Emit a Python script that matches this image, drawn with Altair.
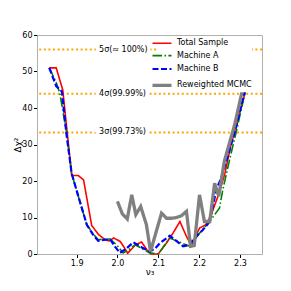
import altair as alt
import pandas as pd

series_names = ["Total Sample", "Machine A", "Machine B", "Reweighted MCMC"]
series_colors = ["#ff0000", "#008000", "#0000ff", "#808080"]
series_dash = [[1, 0], [9.6, 2.4, 1.5, 2.4], [6, 2.5], [1, 0]]
series_width = [1.6, 1.6, 2.2, 3.3]

total_x = [1.833, 1.850, 1.866, 1.888, 1.904, 1.917, 1.937, 1.954, 1.970, 1.980, 1.991, 2.007,
           2.020, 2.025, 2.044, 2.059, 2.073, 2.082, 2.100, 2.120, 2.136, 2.153, 2.169, 2.181,
           2.201, 2.216, 2.228, 2.249, 2.263, 2.277, 2.296, 2.316]
total_y = [51.0, 51.0, 45.0, 21.5, 21.5, 20.3, 7.8, 5.3, 3.9, 3.6, 4.4, 3.4,
           1.2, 0.2, 2.5, 3.3, 1.0, 0.0, 0.0, 3.0, 5.7, 8.9, 4.8, 2.3,
           7.1, 8.0, 10.3, 16.7, 22.0, 29.4, 37.5, 45.5]

machA_x = [1.833, 1.850, 1.859, 1.875, 1.888, 1.909, 1.925, 1.942, 1.953, 1.970, 1.982, 1.998,
           2.014, 2.028, 2.043, 2.060, 2.079, 2.100, 2.128, 2.140, 2.153, 2.177, 2.201, 2.226,
           2.250, 2.258, 2.275, 2.291, 2.315]
machA_y = [51.0, 47.0, 44.0, 33.5, 22.0, 14.0, 8.0, 5.3, 3.9, 4.1, 4.1, 2.5,
           0.3, 1.2, 2.5, 1.5, 0.3, 0.0, 4.4, 3.8, 3.2, 2.1, 5.7, 8.9,
           12.6, 17.6, 26.0, 33.5, 45.5]

machB_x = [1.833, 1.850, 1.864, 1.875, 1.888, 1.909, 1.925, 1.942, 1.953, 1.970, 1.982, 1.994,
           2.006, 2.022, 2.039, 2.060, 2.079, 2.092, 2.104, 2.128, 2.145, 2.161, 2.177, 2.185,
           2.209, 2.226, 2.242, 2.254, 2.270, 2.290, 2.314]
machB_y = [51.0, 46.0, 44.5, 33.0, 22.0, 14.0, 8.0, 5.0, 3.6, 3.9, 4.1, 2.0,
           0.3, 1.5, 3.2, 1.8, 0.7, 1.5, 3.0, 5.0, 3.5, 2.1, 2.5, 3.9,
           6.6, 8.9, 17.6, 20.8, 26.7, 34.5, 45.5]

mcmc_x = [2.000, 2.012, 2.024, 2.035, 2.045, 2.057, 2.071, 2.081, 2.108, 2.120, 2.133, 2.145,
          2.157, 2.169, 2.179, 2.188, 2.201, 2.213, 2.226, 2.238, 2.248, 2.262, 2.287, 2.307]
mcmc_y = [14.4, 11.0, 9.6, 16.2, 10.8, 13.0, 8.0, 0.7, 11.2, 9.8, 9.8, 10.0,
          10.5, 11.7, 2.1, 2.3, 16.2, 8.9, 8.9, 19.4, 15.8, 25.5, 35.4, 45.4]

sigma_values = [56.0, 43.9, 33.3]
sigma_labels = ["5σ(≈ 100%)", "4σ(99.99%)", "3σ(99.73%)"]
sigma_label_x = [1.955, 1.955, 1.955]

x_ticks = [1.9, 2.0, 2.1, 2.2, 2.3]
y_ticks = [0, 10, 20, 30, 40, 50, 60]

rows = []
for name, xs, ys in zip(series_names,
                        [total_x, machA_x, machB_x, mcmc_x],
                        [total_y, machA_y, machB_y, mcmc_y]):
    for i, (xv, yv) in enumerate(zip(xs, ys)):
        rows.append({"series": name, "nu": xv, "chi": yv, "idx": i})
df = pd.DataFrame(rows)

sig_df = pd.DataFrame({"val": sigma_values, "label": sigma_labels, "lx": sigma_label_x})

xscale = alt.Scale(domain=[1.803, 2.354], nice=False, zero=False)
yscale = alt.Scale(domain=[0, 60], nice=False)

xaxis = alt.Axis(values=x_ticks, format=".1f", title="ν₃", grid=False, titlePadding=0)
yaxis = alt.Axis(values=y_ticks, title="Δχ²", grid=False, titlePadding=-1)

rules = alt.Chart(sig_df).mark_rule(color="#ffa500", strokeWidth=2, strokeDash=[2, 2.6]).encode(
    y=alt.Y("val:Q", scale=yscale, axis=yaxis)
)
halo = alt.Chart(sig_df).mark_text(align="left", baseline="middle", fontSize=8, font="DejaVu Sans",
                                   stroke="white", strokeWidth=7, color="white").encode(
    x=alt.X("lx:Q", scale=xscale, axis=xaxis),
    y=alt.Y("val:Q", scale=yscale, axis=yaxis),
    text="label:N",
)
texts = alt.Chart(sig_df).mark_text(align="left", baseline="middle", fontSize=8, font="DejaVu Sans",
                                    color="black").encode(
    x=alt.X("lx:Q", scale=xscale, axis=xaxis),
    y=alt.Y("val:Q", scale=yscale, axis=yaxis),
    text="label:N",
)

width_expr = ("(datum && datum.value === 'Reweighted MCMC') ? 3.3 : "
              "((datum && datum.value === 'Machine B') ? 2.2 : 1.6)")


def mk_legend():
    return alt.Legend(title=None, orient="none", legendX=121, legendY=4.2,
                      symbolType="stroke", symbolSize=361,
                      symbolStrokeWidth=alt.ExprRef(expr=width_expr),
                      labelFontSize=8, labelFont="DejaVu Sans",
                      fillColor="white", padding=0, rowPadding=4.4,
                      labelOffset=11, labelColor="black")


color_enc = alt.Color("series:N", scale=alt.Scale(domain=series_names, range=series_colors),
                      legend=mk_legend())
dash_enc = alt.StrokeDash("series:N", scale=alt.Scale(domain=series_names, range=series_dash),
                          legend=mk_legend())

line_layers = []
for name, w in zip(series_names, series_width):
    line_layers.append(
        alt.Chart(df).transform_filter(alt.datum.series == name).mark_line(strokeWidth=w).encode(
            x=alt.X("nu:Q", scale=xscale, axis=xaxis),
            y=alt.Y("chi:Q", scale=yscale, axis=yaxis),
            color=color_enc,
            strokeDash=dash_enc,
            order="idx:Q",
        )
    )

chart = alt.layer(rules, halo, texts, *line_layers).properties(
    width=225, height=219,
    autosize=alt.AutoSizeParams(type="none"),
    padding={"left": 29, "top": 27, "right": 20, "bottom": 26},
).configure_view(
    stroke="#b0b0b0", strokeWidth=1
).configure_axis(
    domainColor="#b0b0b0", tickColor="black", tickSize=3.5, labelFontSize=8,
    labelFont="DejaVu Sans", labelColor="black", labelPadding=1.5,
    titleFont="DejaVu Sans", titleFontSize=9, titleFontWeight="normal", titleColor="black",
)

chart.save("out.html", embed_options={"renderer": "svg", "actions": False})
